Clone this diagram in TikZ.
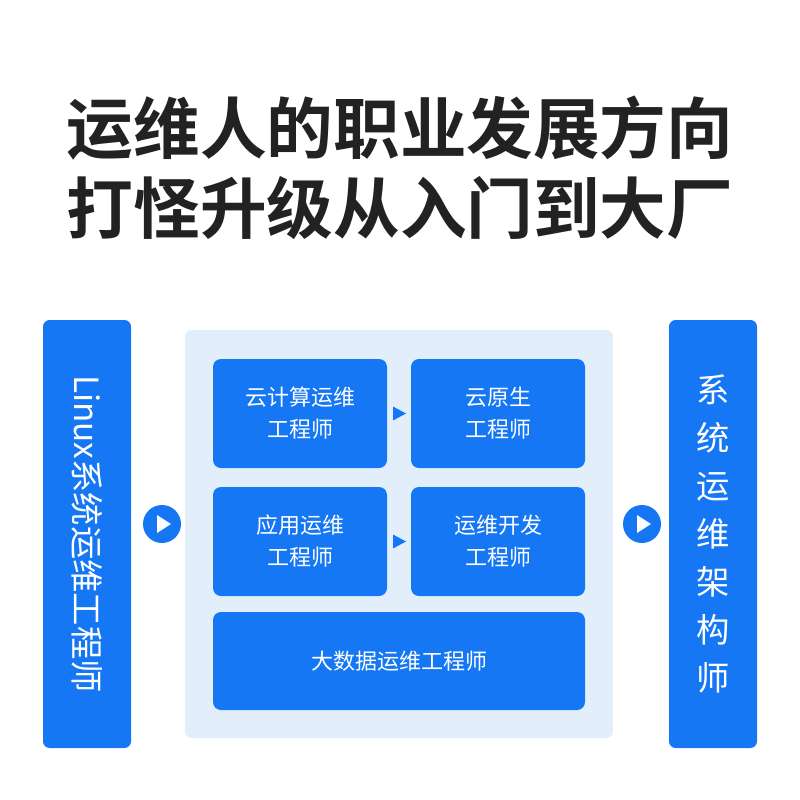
\documentclass[tikz,border=0pt]{standalone}
\usepackage{fontspec}
\setmainfont{Noto Sans CJK SC}
\newfontfamily\cjkbold{Noto Sans CJK SC Bold}
\usetikzlibrary{positioning,calc}
\definecolor{mainblue}{RGB}{22,119,245}
\definecolor{panelblue}{RGB}{227,238,251}
\definecolor{titlegray}{RGB}{34,34,34}

\tikzset{
  sidebar/.style={fill=mainblue,rounded corners=5pt,minimum width=66pt,minimum height=321pt,text=white,font=\fontsize{25}{30}\selectfont},
  rolebox/.style={fill=mainblue,rounded corners=6pt,minimum width=130.5pt,minimum height=81.75pt,text=white,align=center,font=\fontsize{16.5}{24}\selectfont},
  playdot/.style={circle,fill=mainblue,minimum size=28.5pt,inner sep=0pt},
}

\begin{document}
\begin{tikzpicture}[x=0.75pt,y=-0.75pt]
\useasboundingbox (0,0) rectangle (800,800);

\node[text=titlegray,font=\cjkbold\fontsize{50}{60}\selectfont] (title1) at (400,128) {运维人的职业发展方向};
\node[text=titlegray,font=\cjkbold\fontsize{50}{60}\selectfont] (title2) at (400,208) {打怪升级从入门到大厂};

\fill[panelblue,rounded corners=5pt] (185,330) rectangle (613,738);

\node[sidebar] (linux) at (87,534) {};
\node[rotate=-90,text=white,font=\fontsize{25}{30}\selectfont] (linuxtext) at (linux.center) {Linux系统运维工程师};
\node[sidebar,align=center,font=\fontsize{25}{36}\selectfont] (arch) at (713,534) {系\\统\\运\\维\\架\\构\\师};

\node[rolebox] (cloud) at (300,413.5) {云计算运维\\工程师};
\node[rolebox] (native) at (498,413.5) {云原生\\工程师};
\node[rolebox] (app) at (300,541.5) {应用运维\\工程师};
\node[rolebox] (devops) at (498,541.5) {运维开发\\工程师};
\node[rolebox,minimum width=279pt,minimum height=73.5pt] (bigdata) at (399,661) {大数据运维工程师};

\node[playdot] (go1) at (162,524) {};
\node[playdot] (go2) at (642,524) {};
\foreach \c in {go1,go2}
  \fill[white] ($(\c)+(-5,-9)$) -- ($(\c)+(9,0)$) -- ($(\c)+(-5,9)$) -- cycle;
\foreach \a/\b in {cloud/native,app/devops}
  \fill[mainblue] ($(\a.east)!0.5!(\b.west)+(-6,-7)$) -- ($(\a.east)!0.5!(\b.west)+(7,0)$) -- ($(\a.east)!0.5!(\b.west)+(-6,7)$) -- cycle;
\end{tikzpicture}
\end{document}
